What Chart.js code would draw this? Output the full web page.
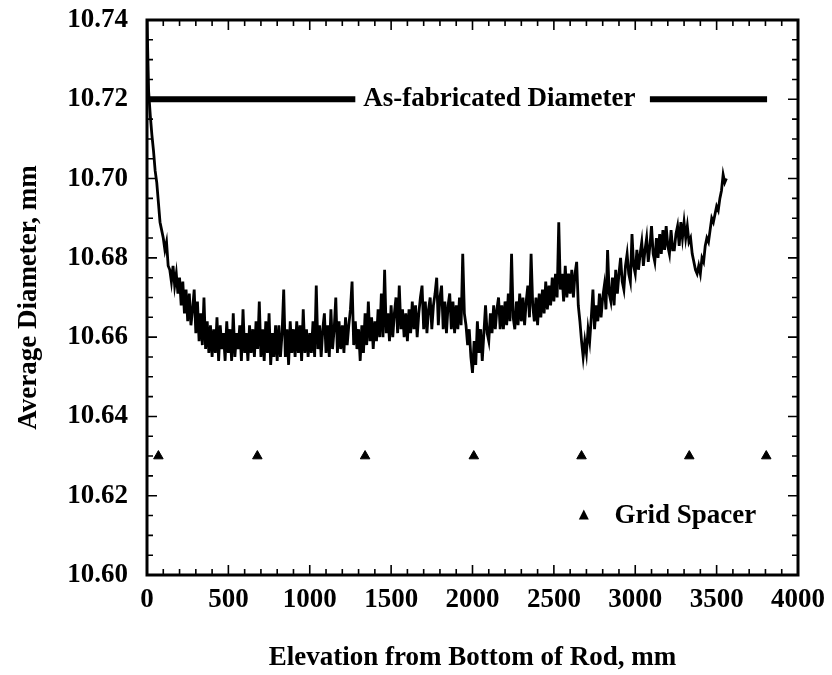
<!DOCTYPE html>
<html>
<head>
<meta charset="utf-8">
<script src="https://cdn.jsdelivr.net/npm/chart.js@4.4.1/dist/chart.umd.min.js"></script>
<style>
  body { margin: 0; background: #fff; }
</style>
</head>
<body>
<canvas id="rodChart" width="832" height="675"></canvas>
<script>
// average diameter (mm), one reading every 10 mm of elevation
const sampleStep = 10;
const avgDiameter = [
  10.740, 10.722, 10.716, 10.711, 10.707, 10.702, 10.699, 10.694, 10.689, 10.687,
  10.685, 10.682, 10.684, 10.678, 10.677, 10.674, 10.678, 10.673, 10.676, 10.671,
  10.675, 10.668, 10.674, 10.666, 10.672, 10.664, 10.671, 10.663, 10.667, 10.672,
  10.661, 10.669, 10.659, 10.666, 10.658, 10.670, 10.657, 10.664, 10.656, 10.663,
  10.655, 10.662, 10.656, 10.665, 10.654, 10.663, 10.657, 10.661, 10.654, 10.664,
  10.656, 10.662, 10.654, 10.666, 10.655, 10.661, 10.657, 10.663, 10.654, 10.667,
  10.656, 10.661, 10.654, 10.663, 10.656, 10.662, 10.655, 10.664, 10.657, 10.669,
  10.655, 10.662, 10.654, 10.664, 10.656, 10.666, 10.653, 10.661, 10.655, 10.663,
  10.654, 10.663, 10.655, 10.661, 10.672, 10.655, 10.662, 10.653, 10.664, 10.656,
  10.662, 10.655, 10.664, 10.656, 10.663, 10.654, 10.667, 10.656, 10.662, 10.655,
  10.661, 10.656, 10.664, 10.655, 10.673, 10.657, 10.663, 10.655, 10.662, 10.666,
  10.656, 10.663, 10.655, 10.667, 10.657, 10.662, 10.670, 10.656, 10.664, 10.657,
  10.663, 10.656, 10.665, 10.658, 10.663, 10.667, 10.674, 10.658, 10.664, 10.657,
  10.662, 10.654, 10.663, 10.656, 10.666, 10.658, 10.669, 10.659, 10.665, 10.657,
  10.664, 10.659, 10.667, 10.660, 10.671, 10.660, 10.677, 10.661, 10.666, 10.659,
  10.668, 10.660, 10.666, 10.670, 10.661, 10.673, 10.662, 10.667, 10.660, 10.666,
  10.659, 10.667, 10.661, 10.669, 10.662, 10.668, 10.660, 10.666, 10.670, 10.673,
  10.662, 10.669, 10.661, 10.667, 10.670, 10.662, 10.668, 10.671, 10.675, 10.663,
  10.670, 10.673, 10.662, 10.669, 10.661, 10.668, 10.671, 10.662, 10.669, 10.661,
  10.668, 10.662, 10.670, 10.663, 10.681, 10.666, 10.663, 10.658, 10.662, 10.655,
  10.651, 10.659, 10.653, 10.664, 10.656, 10.662, 10.654, 10.661, 10.668, 10.661,
  10.659, 10.666, 10.661, 10.668, 10.662, 10.667, 10.670, 10.662, 10.668, 10.662,
  10.669, 10.663, 10.671, 10.664, 10.681, 10.665, 10.662, 10.669, 10.663, 10.671,
  10.664, 10.670, 10.663, 10.669, 10.673, 10.665, 10.681, 10.668, 10.664, 10.670,
  10.663, 10.671, 10.665, 10.672, 10.666, 10.674, 10.667, 10.673, 10.668, 10.675,
  10.669, 10.676, 10.670, 10.689, 10.672, 10.676, 10.669, 10.678, 10.670, 10.676,
  10.671, 10.677, 10.670, 10.676, 10.679, 10.668, 10.664, 10.659, 10.655, 10.659,
  10.656, 10.662, 10.659, 10.665, 10.672, 10.662, 10.668, 10.664, 10.671, 10.665,
  10.670, 10.673, 10.667, 10.682, 10.671, 10.669, 10.675, 10.668, 10.677, 10.671,
  10.676, 10.680, 10.674, 10.672, 10.678, 10.681, 10.676, 10.674, 10.686, 10.678,
  10.676, 10.682, 10.677, 10.681, 10.684, 10.678, 10.682, 10.685, 10.679, 10.683,
  10.688, 10.681, 10.679, 10.685, 10.680, 10.686, 10.681, 10.687, 10.682, 10.688,
  10.683, 10.681, 10.687, 10.682, 10.682, 10.686, 10.688, 10.683, 10.689, 10.685,
  10.689, 10.685, 10.688, 10.684, 10.685, 10.681, 10.679, 10.677, 10.676, 10.678,
  10.676, 10.680, 10.679, 10.683, 10.685, 10.684, 10.687, 10.690, 10.689, 10.691,
  10.693, 10.692, 10.695, 10.697, 10.701, 10.699, 10.700
];

// as-fabricated reference line (broken where its label sits)
const fabDiameter = 10.72;
const fabLeft = [0, 1280];
const fabRight = [3090, 3810];
const fabLabelAt = 2165;

// grid spacer elevations, mm
const gridSpacers = [70, 678, 1340, 2008, 2670, 3332, 3805];
const gridSpacerLevel = 10.63;

const xTicks = [0, 500, 1000, 1500, 2000, 2500, 3000, 3500, 4000];
const yTicks = [10.60, 10.62, 10.64, 10.66, 10.68, 10.70, 10.72, 10.74];

const serif = "'Liberation Serif', 'Times New Roman', serif";

const tracePoints = avgDiameter.map((v, i) => ({ x: i * sampleStep, y: v }));
const fabPoints = [
  { x: fabLeft[0], y: fabDiameter }, { x: fabLeft[1], y: fabDiameter },
  { x: fabLabelAt, y: null },
  { x: fabRight[0], y: fabDiameter }, { x: fabRight[1], y: fabDiameter }
];
const spacerPoints = gridSpacers.map((x) => ({ x: x, y: gridSpacerLevel }));

// frame, inward ticks and the in-plot labels
const framePlugin = {
  id: "frame",
  afterDatasetsDraw(chart) {
    const { ctx, chartArea: a, scales } = chart;
    const sx = scales.x, sy = scales.y;
    ctx.save();
    ctx.strokeStyle = "#000";
    ctx.lineWidth = 1.6;
    ctx.beginPath();
    for (let i = 0; i <= 40; i++) {
      const px = sx.getPixelForValue(i * 100);
      const len = i % 5 === 0 ? 10 : 6;
      ctx.moveTo(px, a.bottom); ctx.lineTo(px, a.bottom - len);
      ctx.moveTo(px, a.top); ctx.lineTo(px, a.top + len);
    }
    for (let i = 0; i <= 28; i++) {
      const py = sy.getPixelForValue(10.60 + i * 0.005);
      const len = i % 4 === 0 ? 10 : 6;
      ctx.moveTo(a.left, py); ctx.lineTo(a.left + len, py);
      ctx.moveTo(a.right, py); ctx.lineTo(a.right - len, py);
    }
    ctx.stroke();
    ctx.lineWidth = 3;
    ctx.strokeRect(a.left, a.top, a.right - a.left, a.bottom - a.top);

    ctx.fillStyle = "#000";
    ctx.font = "bold 27px " + serif;
    ctx.textBaseline = "middle";
    ctx.textAlign = "center";
    ctx.fillText("As-fabricated Diameter", sx.getPixelForValue(fabLabelAt), sy.getPixelForValue(fabDiameter));

    // legend entry for the spacers
    const lx = sx.getPixelForValue(2684), ly = sy.getPixelForValue(10.615);
    ctx.beginPath();
    ctx.moveTo(lx, ly - 6);
    ctx.lineTo(lx + 5, ly + 4);
    ctx.lineTo(lx - 5, ly + 4);
    ctx.closePath();
    ctx.fill();
    ctx.textAlign = "left";
    ctx.fillText("Grid Spacer", sx.getPixelForValue(2873), ly);
    ctx.restore();
  }
};

new Chart(document.getElementById("rodChart"), {
  type: "line",
  data: {
    datasets: [
      {
        data: tracePoints,
        borderColor: "#000",
        borderWidth: 2.8,
        pointRadius: 0,
        tension: 0
      },
      {
        data: fabPoints,
        borderColor: "#000",
        borderWidth: 6,
        borderCapStyle: "butt",
        pointRadius: 0,
        spanGaps: false
      },
      {
        data: spacerPoints,
        showLine: false,
        pointStyle: "triangle",
        pointRadius: 5.5,
        pointBackgroundColor: "#000",
        pointBorderColor: "#000",
        pointBorderWidth: 1
      }
    ]
  },
  options: {
    responsive: false,
    animation: false,
    layout: { padding: { top: 20, right: 34, left: 0, bottom: 0 } },
    plugins: { legend: { display: false }, tooltip: { enabled: false } },
    scales: {
      x: {
        type: "linear",
        min: 0,
        max: 4000,
        afterFit: (s) => { s.height = 100; s.paddingLeft = 0; s.paddingRight = 0; },
        afterBuildTicks: (s) => { s.ticks = xTicks.map((v) => ({ value: v })); },
        grid: { display: false, drawTicks: false },
        border: { display: false },
        ticks: {
          color: "#000",
          padding: 9,
          maxRotation: 0,
          font: { family: serif, size: 27, weight: "bold" },
          callback: (v) => String(v)
        },
        title: {
          display: true,
          text: "Elevation from Bottom of Rod, mm",
          color: "#000",
          padding: { top: 1, bottom: 1 },
          font: { family: serif, size: 27, weight: "bold", lineHeight: 1.2 }
        }
      },
      y: {
        type: "linear",
        min: 10.60,
        max: 10.74,
        afterFit: (s) => { s.width = 147; s.paddingTop = 0; s.paddingBottom = 0; },
        afterBuildTicks: (s) => { s.ticks = yTicks.map((v) => ({ value: v })); },
        grid: { display: false, drawTicks: false },
        border: { display: false },
        ticks: {
          color: "#000",
          padding: 19,
          font: { family: serif, size: 27, weight: "bold" },
          callback: (v) => Number(v).toFixed(2)
        },
        title: {
          display: true,
          text: "Average Diameter, mm",
          color: "#000",
          padding: { top: 13, bottom: 13 },
          font: { family: serif, size: 27, weight: "bold", lineHeight: 1.2 }
        }
      }
    }
  },
  plugins: [framePlugin]
});
</script>
</body>
</html>
